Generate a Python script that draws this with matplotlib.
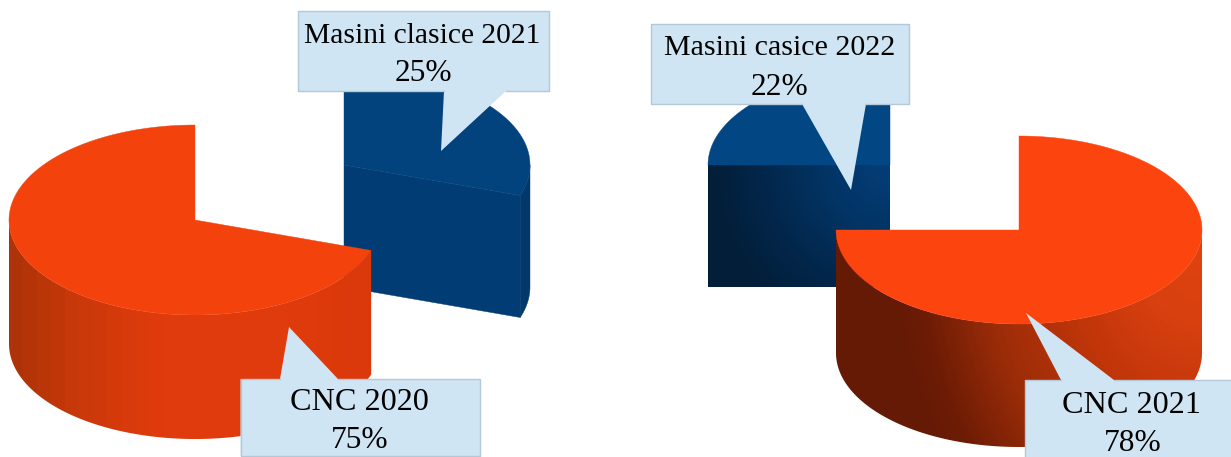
"""Two exploded 3D style pies with callout labels."""

import matplotlib
matplotlib.use('Agg')

import matplotlib.pyplot as plt
import numpy as np
from matplotlib.colors import LinearSegmentedColormap
from matplotlib.patches import PathPatch, Polygon
from matplotlib.path import Path


# Labels as printed
left_labels = ['CNC 2020', 'Masini clasice 2021']
left_printed = [75, 25]
right_labels = ['Masini casice 2022', 'CNC 2021']
right_printed = [22, 78]

# The slices are not drawn to the printed numbers, these are the drawn shares
left_shares = [0.698, 0.302]
right_shares = [0.25, 0.75]

ORANGE_LEFT = '#F4420D'
ORANGE_RIGHT = '#FC440F'
BOX_FILL = '#CFE5F4'
BOX_EDGE = '#B5C8D8'


def arc(cx, cy, rx, ry, t0, t1):
    """Return the points of an elliptical arc, angles in degrees."""
    t = np.radians(np.linspace(t0, t1, 200))
    return np.column_stack((cx + rx * np.cos(t), cy - ry * np.sin(t)))


def rim(cx, cy, rx, ry, depth, t0, t1):
    top = arc(cx, cy, rx, ry, t0, t1)
    return np.vstack((top, (top + [0, depth])[::-1]))


def wedge(cx, cy, rx, ry, t0, t1):
    return np.vstack(([[cx, cy]], arc(cx, cy, rx, ry, t0, t1)))


def flat(ax, points, color, zorder):
    ax.add_patch(Polygon(points, closed=True, facecolor=color, edgecolor=color,
                         linewidth=0.3, zorder=zorder))


def shaded(ax, points, stops, colors, zorder, center=None, yscale=1.0,
           steps=None):
    """Fill a polygon with a horizontal gradient, or radial around center."""
    x0, x1 = np.floor(points[:, 0].min()), np.ceil(points[:, 0].max())
    y0, y1 = np.floor(points[:, 1].min()), np.ceil(points[:, 1].max())
    nx = steps or int(x1 - x0)
    xs, ys = np.meshgrid(np.linspace(x0, x1, nx),
                         np.linspace(y0, y1, int(y1 - y0)))
    if center is None:
        dist = xs
    else:
        dist = np.hypot(xs - center[0], (ys - center[1]) * yscale)
    pos = [(s - stops[0]) / (stops[-1] - stops[0]) for s in stops]
    cmap = LinearSegmentedColormap.from_list('side', list(zip(pos, colors)))
    values = (dist - stops[0]) / (stops[-1] - stops[0])
    im = ax.imshow(values, cmap=cmap, vmin=0, vmax=1, aspect='auto',
                   extent=(x0, x1, y1, y0), interpolation='nearest',
                   zorder=zorder)
    outline = Path(np.vstack((points, points[:1])), closed=True)
    im.set_clip_path(PathPatch(outline, transform=ax.transData))


def callout(ax, box, base, tip, lines):
    """Draw a box with a pointer, base is the x range where the pointer opens."""
    x0, y0, x1, y1 = box
    if tip[1] > y1:
        # Pointer below the box
        outline = [(base[1], y1), (x1, y1), (x1, y0), (x0, y0), (x0, y1),
                   (base[0], y1)]
    else:
        # Pointer above the box
        outline = [(base[1], y0), (x1, y0), (x1, y1), (x0, y1), (x0, y0),
                   (base[0], y0)]
    ax.add_patch(Polygon(outline + [tip], closed=True, facecolor=BOX_FILL,
                         edgecolor='none', zorder=20))
    ax.plot(*zip(*outline), color=BOX_EDGE, linewidth=1.0, zorder=20)
    for text, x, baseline, size in lines:
        ax.text(x, baseline, text, ha='center', va='baseline',
                family='Liberation Serif', fontsize=size, color='#000000',
                zorder=21)


fig = plt.figure(figsize=(12.31, 4.57), dpi=100)
ax = fig.add_axes([0, 0, 1, 1])

# Left pie, the blue slice is pulled out to the upper right
end = 90 + 360 * left_shares[0]
cx, cy, rx, ry, depth = 195, 220, 186, 95, 124
blue_cx, blue_cy, blue_depth = 344, 165, 122
blue_end = end - 360

cut = arc(blue_cx, blue_cy, rx, ry, blue_end, blue_end)[:1]
face = np.vstack(([[blue_cx, blue_cy]], cut, cut + [0, blue_depth],
                  [[blue_cx, blue_cy + blue_depth]]))
flat(ax, rim(blue_cx, blue_cy, rx, ry, blue_depth, blue_end, 0), '#03386A', 2)
flat(ax, face, '#013C74', 2)
flat(ax, wedge(blue_cx, blue_cy, rx, ry, blue_end, 90), '#02437E', 3)

shaded(ax, rim(cx, cy, rx, ry, depth, 180, end),
       [9, 40, 80, 125, 160, 300, 371],
       ['#AE3308', '#BC3609', '#CB380A', '#D93A0B', '#E03B0C', '#E03B0C',
        '#DB390B'], 5, steps=26)
flat(ax, wedge(cx, cy, rx, ry, 90, end), ORANGE_LEFT, 6)

# Right pie, the blue slice is pulled out to the upper left
end = 90 + 360 * right_shares[0]
blue_cx, blue_cy, rx, ry, depth = 890, 165, 182, 94, 122
front = np.array([[blue_cx - rx, blue_cy], [blue_cx, blue_cy],
                  [blue_cx, blue_cy + depth], [blue_cx - rx, blue_cy + depth]])
shaded(ax, front, [0, 60, 130, 180, 260],
       ['#043E78', '#023566', '#02264A', '#021E38', '#021E38'], 2,
       center=(blue_cx, blue_cy))
flat(ax, wedge(blue_cx, blue_cy, rx, ry, 90, end), '#034684', 3)

cx, cy, rx, ry, depth = 1019, 230, 183, 94, 123
shaded(ax, rim(cx, cy, rx, ry, depth, end, 360),
       [0, 70, 140, 220, 283, 315, 420],
       ['#E0440F', '#D84010', '#C0350A', '#9A2C08', '#6E1C05', '#641A05',
        '#641A05'], 5, center=(cx + rx, cy), yscale=0.75)
flat(ax, wedge(cx, cy, rx, ry, end, 450), ORANGE_RIGHT, 6)

callout(ax, (298, 11, 549, 91), (444, 506), (441, 151),
        [(left_labels[1], 422, 43, 21.25),
         ('{0}%'.format(left_printed[1]), 423, 81, 22.6)])
callout(ax, (651, 24, 909, 104), (802, 866), (851, 190),
        [(right_labels[0], 780, 55, 21.6),
         ('{0}%'.format(right_printed[0]), 780, 95, 22.6)])
callout(ax, (240.5, 379, 480, 456), (280, 338), (289, 327),
        [(left_labels[0], 359.5, 410, 23.2),
         ('{0}%'.format(left_printed[0]), 360, 448, 22.6)])
callout(ax, (1025, 380, 1240, 470), (1061, 1114), (1026, 313),
        [(right_labels[1], 1131.5, 413, 23.2),
         ('{0}%'.format(right_printed[1]), 1133, 451, 22.6)])

ax.set_xlim(0, 1231)
ax.set_ylim(457, 0)
ax.axis('off')

fig.savefig('out.png', dpi=100, facecolor='white')
